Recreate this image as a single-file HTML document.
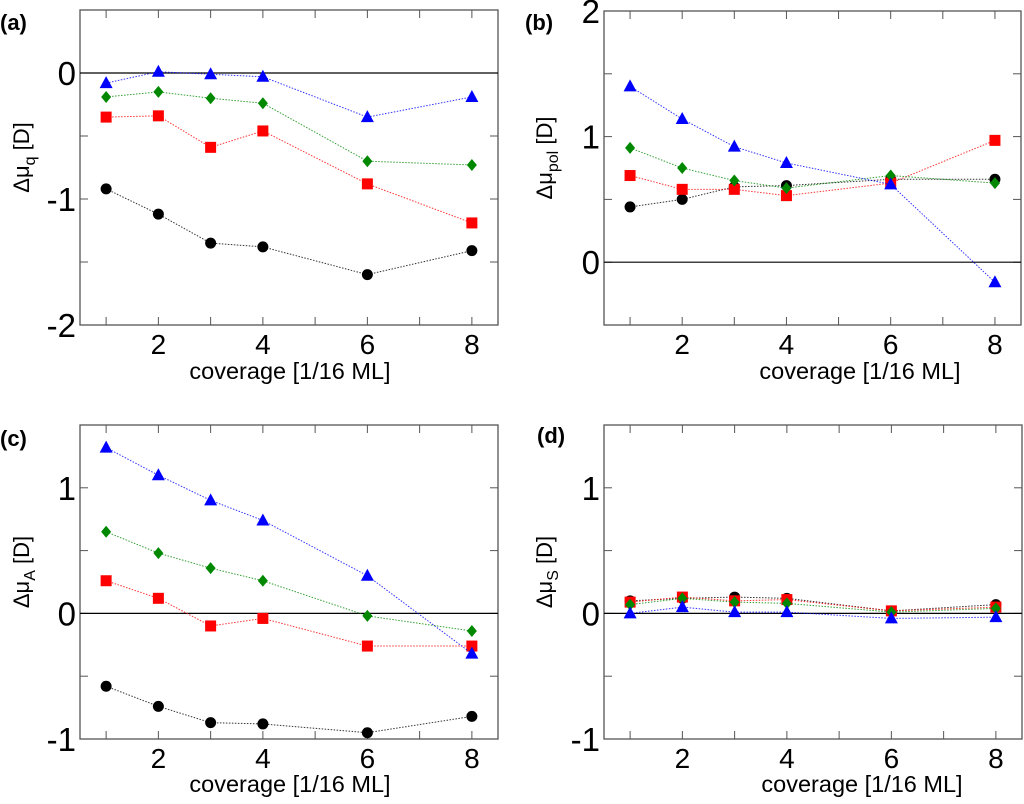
<!DOCTYPE html>
<html><head><meta charset="utf-8"><style>
html,body{margin:0;padding:0;background:#fff;}
svg{display:block;font-family:"Liberation Sans",sans-serif;}
</style></head><body>
<svg id="fig" width="1024" height="804" viewBox="0 0 1024 804"></svg>
<script>
const xs = [1,2,3,4,6,8];
const aBlue = [-0.08,0.01,-0.01,-0.03,-0.35,-0.19];
const aGreen = [-0.19,-0.15,-0.20,-0.24,-0.70,-0.73];
const aRed = [-0.35,-0.34,-0.59,-0.46,-0.88,-1.19];
const aBlack = [-0.92,-1.12,-1.35,-1.38,-1.60,-1.41];
const bBlue = [1.40,1.14,0.92,0.79,0.62,-0.16];
const bGreen = [0.91,0.75,0.65,0.59,0.69,0.63];
const bRed = [0.69,0.58,0.58,0.53,0.63,0.97];
const bBlack = [0.44,0.50,0.60,0.61,0.66,0.66];
const cBlue = [1.32,1.10,0.90,0.74,0.30,-0.32];
const cGreen = [0.65,0.48,0.36,0.26,-0.02,-0.14];
const cRed = [0.26,0.12,-0.10,-0.04,-0.26,-0.26];
const cBlack = [-0.58,-0.74,-0.87,-0.88,-0.95,-0.82];
const dBlue = [0.00,0.05,0.01,0.01,-0.04,-0.03];
const dGreen = [0.07,0.12,0.09,0.08,0.01,0.04];
const dRed = [0.09,0.13,0.10,0.11,0.02,0.05];
const dBlack = [0.10,0.12,0.13,0.12,0.02,0.07];
const xTickLabels = [2,4,6,8];
const aYTicks = [-2,-1,0];
const bYTicks = [0,1,2];
const cYTicks = [-1,0,1];
const dYTicks = [-1,0,1];

const NS="http://www.w3.org/2000/svg";
const svg=document.getElementById('fig');
function mk(tag,attrs,parent){const e=document.createElementNS(NS,tag);for(const k in attrs)e.setAttribute(k,attrs[k]);(parent||svg).appendChild(e);return e;}

const panels=[
 {id:'a',L:80,T:10,R:498,B:325,ymin:-2,ymax:0.5,yt:aYTicks,sub:'q',s:[aBlack,aRed,aGreen,aBlue],lx:290,ly:379,tx:20,plx:0,ply:30},
 {id:'b',L:604,T:11,R:1021,B:325,ymin:-0.5,ymax:2,yt:bYTicks,sub:'pol',s:[bBlack,bRed,bGreen,bBlue],lx:860,ly:379,tx:543,plx:525,ply:30},
 {id:'c',L:80,T:425,R:498,B:739,ymin:-1,ymax:1.5,yt:cYTicks,sub:'A',s:[cBlack,cRed,cGreen,cBlue],lx:290,ly:792,tx:20,plx:0,ply:446},
 {id:'d',L:604,T:425,R:1022,B:739,ymin:-1,ymax:1.5,yt:dYTicks,sub:'S',s:[dBlack,dRed,dGreen,dBlue],lx:862,ly:792,tx:543,plx:537,ply:443}
];
const colors=['#000','#f00','#080','#00f'];
const names=['black','red','green','blue'];

panels.forEach(p=>{
 const g=mk('g',{});
 
 
 const X=v=>p.L+(v-0.5)/8*(p.R-p.L);
 const Y=v=>p.B-(v-p.ymin)/(p.ymax-p.ymin)*(p.B-p.T);
 const frame=mk('rect',{x:p.L,y:p.T,width:p.R-p.L,height:p.B-p.T,fill:'none',stroke:'#555','stroke-width':1.3},g);
 
 
 for(let i=1;i<=8;i++){
  mk('line',{x1:X(i),x2:X(i),y1:p.B,y2:p.B-8,stroke:'#555'},g);
  mk('line',{x1:X(i),x2:X(i),y1:p.T,y2:p.T+8,stroke:'#555'},g);
 }
 xTickLabels.forEach(v=>{
  const t=mk('text',{x:X(v),y:p.B+29,'font-size':28,'text-anchor':'middle',fill:'#000'},g);
  t.textContent=v;
  
  
 });
 for(let v=p.ymin;v<=p.ymax+1e-9;v+=0.5){
  mk('line',{x1:p.L,x2:p.L+8,y1:Y(v),y2:Y(v),stroke:'#555'},g);
  mk('line',{x1:p.R,x2:p.R-8,y1:Y(v),y2:Y(v),stroke:'#555'},g);
 }
 p.yt.forEach(v=>{
  const t=mk('text',{x:p.L-4,y:Y(v)+12,'font-size':33,'text-anchor':'end',fill:'#000'},g);
  t.textContent=v<0?'-'+Math.abs(v):v;
  
  
 });
 const z=mk('line',{x1:p.L,x2:p.R,y1:Y(0),y2:Y(0),stroke:'#000','stroke-width':1.2},g);
 
 
 const xl=mk('text',{x:p.lx,y:p.ly,'font-size':23.5,'text-anchor':'middle',fill:'#000'},g);
 xl.textContent='coverage [1/16 ML]';
 
 
 const cy=(p.T+p.B)/2-10;
 const yl=mk('text',{x:0,y:0,'font-size':22,'text-anchor':'middle',fill:'#000',transform:`translate(${p.tx+9},${cy}) rotate(-90)`},g);
 yl.innerHTML='Δμ<tspan font-size="16" dy="6">'+p.sub+'</tspan><tspan dy="-6"> [D]</tspan>';
 
 
 const pl=mk('text',{x:p.plx,y:p.ply,'font-size':22,'font-weight':'bold',fill:'#000'},g);
 pl.textContent='('+p.id+')';
 
 
 p.s.forEach((arr,si)=>{
  const c=colors[si];
  const pts=arr.map((v,i)=>X(xs[i])+','+Y(v)).join(' ');
  const ln=mk('polyline',{points:pts,fill:'none',stroke:c,'stroke-width':1,'stroke-dasharray':'1.5,1.5',opacity:0.8},g);
  
  
  arr.forEach((v,i)=>{
   const x=X(xs[i]),y=Y(v);let m;
   if(si===0) m=mk('circle',{cx:x,cy:y,r:5.5,fill:c},g);
   else if(si===1) m=mk('rect',{x:x-5.5,y:y-5.5,width:11,height:11,fill:c},g);
   else if(si===2) m=mk('polygon',{points:`${x},${y-6} ${x+5},${y} ${x},${y+6} ${x-5},${y}`,fill:c},g);
   else m=mk('polygon',{points:`${x},${y-7} ${x+6.5},${y+5} ${x-6.5},${y+5}`,fill:c},g);
   
   
  });
 });
});
</script>
</body></html>
